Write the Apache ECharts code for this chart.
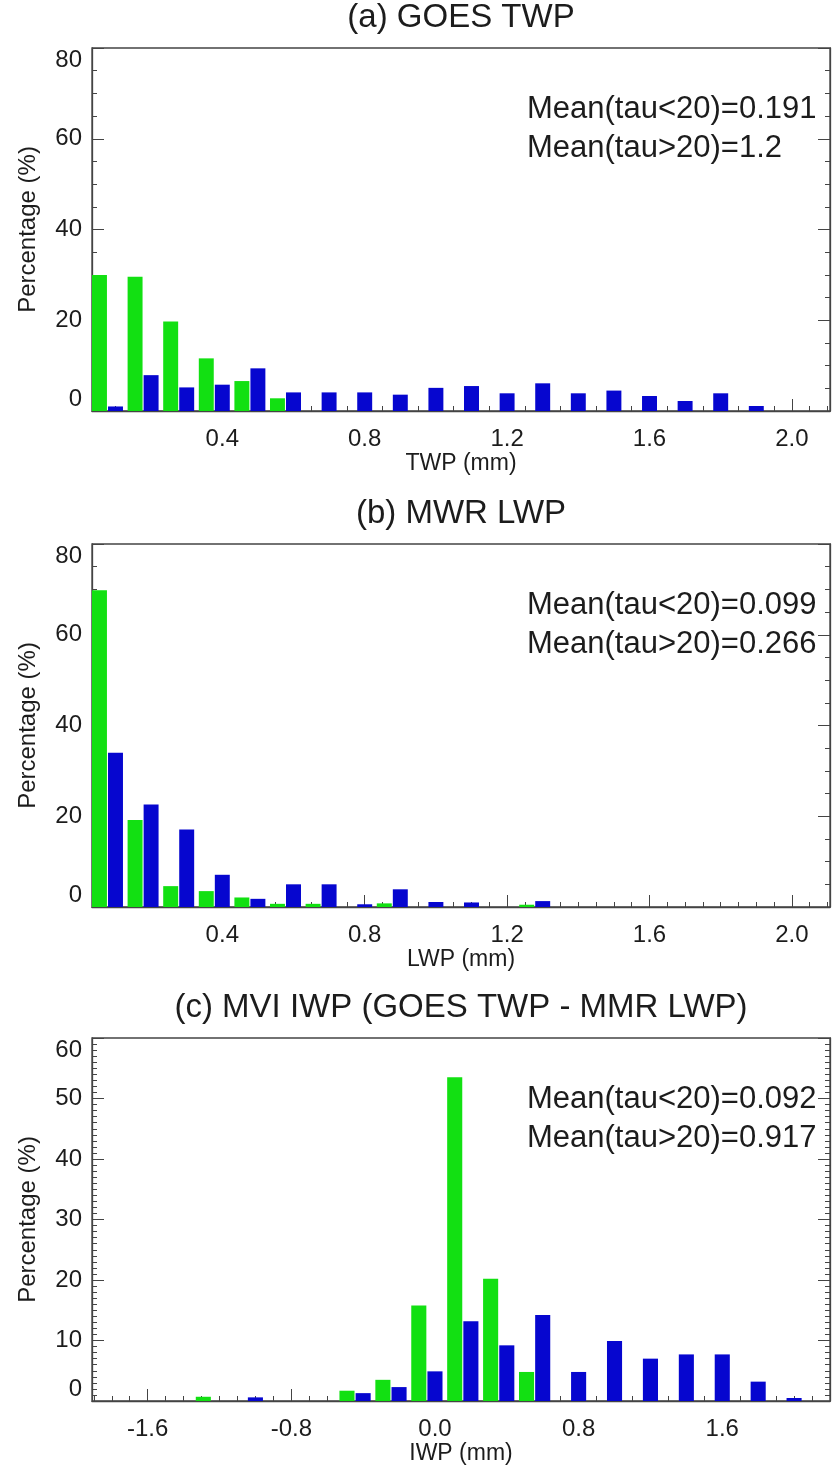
<!DOCTYPE html>
<html>
<head>
<meta charset="utf-8">
<script src="https://cdn.jsdelivr.net/npm/echarts@6/dist/echarts.min.js"></script>
<style>
  html, body { margin: 0; padding: 0; background: #fff; }
  #chart { width: 835px; height: 1468px; }
</style>
</head>
<body>
<div id="chart"></div>
<script>
// (a) GOES TWP histogram, bins of 0.1 mm (position of each bin's tau>20 bar)
const twpBins  = [0.1, 0.2, 0.3, 0.4, 0.5, 0.6, 0.7, 0.8, 0.9, 1.0, 1.1, 1.2, 1.3, 1.4, 1.5, 1.6, 1.7, 1.8, 1.9];
const twpThin  = [30.0, 29.6, 19.7, 11.6, 6.6, 2.8, 0, 0, 0, 0, 0, 0, 0, 0, 0, 0, 0, 0, 0];
const twpThick = [1.0, 7.9, 5.2, 5.8, 9.4, 4.1, 4.1, 4.1, 3.6, 5.1, 5.5, 3.9, 6.1, 3.9, 4.5, 3.3, 2.2, 3.9, 1.1];

// (b) MWR LWP histogram, bins of 0.1 mm
const lwpBins  = [0.1, 0.2, 0.3, 0.4, 0.5, 0.6, 0.7, 0.8, 0.9, 1.0, 1.1, 1.2, 1.3];
const lwpThin  = [69.8, 19.2, 4.6, 3.5, 2.1, 0.7, 0.7, 0, 0.8, 0, 0, 0, 0.5];
const lwpThick = [34.0, 22.6, 17.1, 7.1, 1.8, 5.0, 5.0, 0.6, 3.9, 1.1, 1.0, 0, 1.3];

// (c) MVI IWP histogram, bins of 0.2 mm
const iwpBins  = [-1.8, -1.6, -1.4, -1.2, -1.0, -0.8, -0.6, -0.4, -0.2, 0.0, 0.2, 0.4, 0.6, 0.8, 1.0, 1.2, 1.4, 1.6, 1.8, 2.0];
const iwpThin  = [0, 0, 0, 0.7, 0, 0, 0, 1.7, 3.5, 15.8, 53.5, 20.2, 4.8, 0, 0, 0, 0, 0, 0, 0];
const iwpThick = [0, 0, 0, 0, 0.6, 0, 0, 1.3, 2.3, 4.9, 13.2, 9.2, 14.2, 4.8, 9.9, 7.0, 7.7, 7.7, 3.2, 0.5];

// tick labels
const twpTicks = [0.4, 0.8, 1.2, 1.6, 2.0];
const lwpTicks = [0.4, 0.8, 1.2, 1.6, 2.0];
const iwpTicks = [-1.6, -0.8, 0.0, 0.8, 1.6];

const titles = ['(a) GOES TWP', '(b) MWR LWP', '(c) MVI IWP (GOES TWP - MMR LWP)'];
const xNames = ['TWP (mm)', 'LWP (mm)', 'IWP (mm)'];
const meanThin  = ['Mean(tau<20)=0.191', 'Mean(tau<20)=0.099', 'Mean(tau<20)=0.092'];
const meanThick = ['Mean(tau>20)=1.2',   'Mean(tau>20)=0.266', 'Mean(tau>20)=0.917'];

const FONT = '"Liberation Sans", Arial, Helvetica, sans-serif';
const INK = '#1c1c1c';
const AXIS = '#444';
const GREEN = '#12e012';
const BLUE = '#0606cf';

const GRID_LEFT = 92, GRID_RIGHT = 5, GRID_H = 363;
const gridTops = [48, 544, 1038];

const panels = [
  { bins: twpBins, thin: twpThin, thick: twpThick, ticks: twpTicks, bw: 0.1, xmin: 0.034, xmax: 2.107, minorStep: 0.05, ymax: 80, yint: 20, ysplit: 4 },
  { bins: lwpBins, thin: lwpThin, thick: lwpThick, ticks: lwpTicks, bw: 0.1, xmin: 0.034, xmax: 2.107, minorStep: 0.05, ymax: 80, yint: 20, ysplit: 4 },
  { bins: iwpBins, thin: iwpThin, thick: iwpThick, ticks: iwpTicks, bw: 0.2, xmin: -1.91, xmax: 2.20, minorStep: 0.1, ymax: 60, yint: 10, ysplit: 10 }
];

function minorPositions(p) {
  const out = [];
  const start = Math.ceil(p.xmin / p.minorStep);
  const end = Math.floor(p.xmax / p.minorStep);
  for (let k = start; k <= end; k++) out.push(+(k * p.minorStep).toFixed(3));
  return out;
}

function barRenderer(halfWidth) {
  return function (params, api) {
    const x = api.value(0), y = api.value(1);
    if (!y) return null;
    const p0 = api.coord([x - halfWidth, y]);
    const p1 = api.coord([x + halfWidth, 0]);
    return {
      type: 'rect',
      shape: { x: p0[0], y: p0[1], width: p1[0] - p0[0], height: p1[1] - p0[1] },
      style: { fill: api.visual('color') }
    };
  };
}

const grid = [], xAxis = [], yAxis = [], series = [], graphic = [];

panels.forEach((p, i) => {
  const top = gridTops[i];
  grid.push({
    left: GRID_LEFT, right: GRID_RIGHT, top: top, height: GRID_H,
    show: true, borderColor: AXIS, borderWidth: 1.3, backgroundColor: 'transparent'
  });

  // major ticks + labels
  xAxis.push({
    gridIndex: i, type: 'value', position: 'bottom', min: p.xmin, max: p.xmax,
    name: xNames[i], nameLocation: 'middle', nameGap: 39,
    nameTextStyle: { fontFamily: FONT, fontSize: 23, color: INK },
    axisLine: { show: true, onZero: false, lineStyle: { color: AXIS, width: 1.3 } },
    axisTick: { show: true, inside: true, length: 12, customValues: p.ticks, lineStyle: { color: AXIS, width: 1 } },
    axisLabel: {
      show: true, margin: 16, customValues: p.ticks, fontFamily: FONT, fontSize: 24, color: INK,
      formatter: v => v.toFixed(1)
    },
    splitLine: { show: false }
  });
  // minor ticks
  xAxis.push({
    gridIndex: i, type: 'value', position: 'bottom', min: p.xmin, max: p.xmax,
    axisLine: { show: false, onZero: false },
    axisTick: { show: true, inside: true, length: 5, customValues: minorPositions(p), lineStyle: { color: AXIS, width: 1 } },
    axisLabel: { show: false },
    splitLine: { show: false }
  });

  const yCommon = {
    gridIndex: i, type: 'value', min: 0, max: p.ymax, interval: p.yint,
    axisLine: { show: true, onZero: false, lineStyle: { color: AXIS, width: 1.3 } },
    axisTick: { show: true, inside: true, length: 12, lineStyle: { color: AXIS, width: 1 } },
    minorTick: { show: true, splitNumber: p.ysplit, length: 5, lineStyle: { color: AXIS, width: 1 } },
    splitLine: { show: false }
  };
  yAxis.push(Object.assign({}, yCommon, {
    position: 'left',
    name: 'Percentage (%)', nameLocation: 'middle', nameGap: 52, nameRotate: 90,
    nameTextStyle: { fontFamily: FONT, fontSize: 24, color: INK },
    axisLabel: {
      show: true, margin: 10, fontFamily: FONT, fontSize: 24, color: INK,
      verticalAlignMinLabel: 'bottom', verticalAlignMaxLabel: 'top'
    }
  }));
  yAxis.push(Object.assign({}, yCommon, {
    position: 'right',
    axisLabel: { show: false }
  }));

  const xIdx = i * 2, yIdx = i * 2;
  const half = 0.21 * p.bw, shift = 0.45 * p.bw;
  series.push({
    type: 'custom', name: 'tau<20', xAxisIndex: xIdx, yAxisIndex: yIdx, clip: true,
    itemStyle: { color: GREEN }, renderItem: barRenderer(half),
    data: p.bins.map((b, k) => [b - shift, p.thin[k]])
  });
  series.push({
    type: 'custom', name: 'tau>20', xAxisIndex: xIdx, yAxisIndex: yIdx, clip: true,
    itemStyle: { color: BLUE }, renderItem: barRenderer(half),
    data: p.bins.map((b, k) => [b, p.thick[k]])
  });

  const cx = GRID_LEFT + (835 - GRID_LEFT - GRID_RIGHT) / 2;
  graphic.push({
    type: 'text', x: cx, y: top - 30,
    style: { text: titles[i], textAlign: 'center', textVerticalAlign: 'middle', font: '33px ' + FONT, fill: INK }
  });
  graphic.push({
    type: 'text', x: 527, y: top + 61,
    style: { text: meanThin[i], textAlign: 'left', textVerticalAlign: 'middle', font: '31px ' + FONT, fill: INK }
  });
  graphic.push({
    type: 'text', x: 527, y: top + 100,
    style: { text: meanThick[i], textAlign: 'left', textVerticalAlign: 'middle', font: '31px ' + FONT, fill: INK }
  });
});

const chart = echarts.init(document.getElementById('chart'), null, { renderer: 'canvas' });
chart.setOption({
  animation: false,
  backgroundColor: '#fff',
  grid, xAxis, yAxis, series, graphic
});
</script>
</body>
</html>
